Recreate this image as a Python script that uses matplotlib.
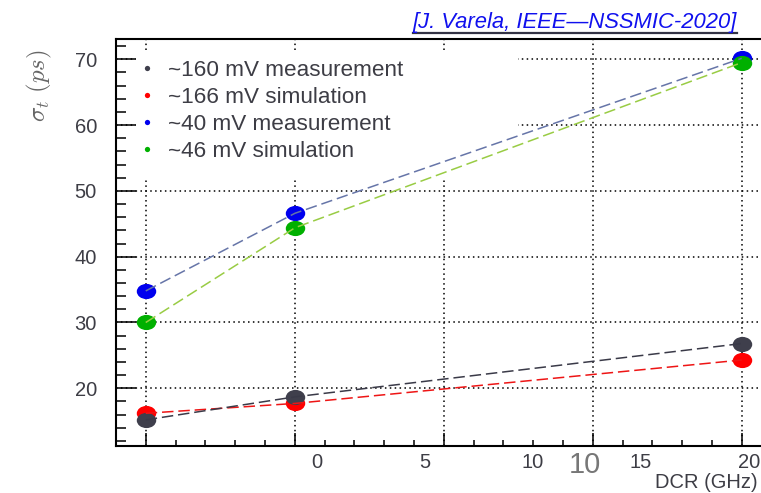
import matplotlib
matplotlib.use("Agg")
import matplotlib.pyplot as plt
import numpy as np
from matplotlib.lines import Line2D
from matplotlib.path import Path
from matplotlib.patches import Rectangle
from matplotlib.ticker import FixedLocator

plt.rcParams["font.family"] = ["Liberation Sans", "DejaVu Sans"]
plt.rcParams["mathtext.fontset"] = "cm"

# DCR points (GHz, on the printed scale) and time resolution (ps)
dcr = [-7.93, -1.02, 19.66]
sigma_160_meas = [15.2, 18.7, 26.8]
sigma_166_sim = [16.2, 17.7, 24.3]
sigma_40_meas = [34.8, 46.6, 70.15]
sigma_46_sim = [30.0, 44.4, 69.5]

labels = ["~160 mV measurement", "~166 mV simulation",
          "~40 mV measurement", "~46 mV simulation"]
dcr_ticks = [0, 5, 10, 15, 20]

TXT = "#3d3d45"

# squashed circle used as marker
circ = Path.unit_circle()
ellipse = Path(circ.vertices * np.array([1.0, 0.78]), circ.codes)

fig = plt.figure(figsize=(7.61, 4.93), dpi=100)
ax = fig.add_axes([115.7 / 761, 47 / 493, 646.3 / 761, 406.7 / 493])
ax.set_xlim(-9.32, 20.6)
ax.set_ylim(11.23, 73.04)
ax.set_axisbelow(True)

# (values, marker colour, line colour), drawn in this order
series = [
    (sigma_166_sim, "#ff0000", "#ee1515"),
    (sigma_160_meas, "#3f3f4c", "#3a3a48"),
    (sigma_40_meas, "#0000ee", "#6675a8"),
    (sigma_46_sim, "#00b000", "#99cc44"),
]
for vals, mcol, lcol in series:
    ax.plot(dcr, vals, ls="none", marker=ellipse, ms=14, mfc=mcol,
            mec=mcol, mew=0, zorder=3)
    ln, = ax.plot(dcr, vals, color=lcol, lw=1.1, zorder=4)
    ln.set_dashes((7.5, 3.2))

# grid / ticks sit on their own spacing, labels are on the DCR scale
step = (19.66 + 7.93) / 4
ax.xaxis.set_major_locator(FixedLocator(-7.93 + step * np.arange(5)))
ax.xaxis.set_minor_locator(FixedLocator(-7.93 + step / 5 * np.arange(-1, 21)))
ax.set_xticklabels([])
ax.yaxis.set_major_locator(FixedLocator([20, 30, 40, 50, 60, 70]))
ax.yaxis.set_minor_locator(FixedLocator(np.arange(12, 74, 2)))

ax.grid(True, which="major", color="black", lw=1.1, ls=(0, (1, 2.2)))
ax.tick_params(axis="x", which="major", direction="in", length=9.4, width=1.1)
ax.tick_params(axis="x", which="minor", direction="in", length=4.3, width=1.1)
ax.tick_params(axis="y", which="major", direction="in", length=14.4, width=1.1,
               labelsize=14.5, labelcolor=TXT, pad=13.5)
ax.tick_params(axis="y", which="minor", direction="in", length=7.2, width=1.1)
ax.tick_params(top=False, right=False)
ax.spines["right"].set_visible(False)
for s in ("left", "bottom", "top"):
    ax.spines[s].set_linewidth(1.5)

sec = ax.secondary_xaxis("bottom")
sec.set_xticks(dcr_ticks)
sec.set_xticklabels([str(t) for t in dcr_ticks])
sec.tick_params(length=0, labelsize=14.5, labelcolor=TXT, pad=5)
sec.spines["bottom"].set_visible(False)

# legend panel
ax.add_patch(Rectangle((136, 493 - 180), 518 - 136, 130, transform=None,
                       facecolor="white", edgecolor="none", zorder=1))
handles = [Line2D([], [], ls="none", marker="o", ms=3.8, color=c[1], mew=0)
           for c in [series[1], series[0], series[2], series[3]]]
leg = ax.legend(handles, labels, loc="upper left", frameon=False,
                bbox_to_anchor=((141 - 115.7) / 646.3, (446 - 59.6) / 406.7),
                borderpad=0, borderaxespad=0, fontsize=16.2,
                handlelength=0.55, handletextpad=0.65, labelspacing=0.27,
                labelcolor=TXT)
leg.set_zorder(2)

fig.text(39 / 761, 1 - 86 / 493, r"$\sigma_t\ (ps)$", rotation=90,
         ha="center", va="center", fontsize=18, color="#666666")
fig.text(758 / 761, 1 - 482 / 493, "DCR (GHz)", ha="right", va="center",
         fontsize=14.5, color=TXT)
fig.text(585 / 761, 1 - 465 / 493, "10", ha="center", va="center",
         fontsize=21, color="#777777",
         family=["Liberation Sans Narrow", "Liberation Sans"])

ref = fig.text(737 / 761, 1 - 28.3 / 493, "[J. Varela, IEEE\u2014NSSMIC-2020]",
               ha="right", va="baseline", fontsize=15.8, style="italic",
               color="#1010ee")
fig.canvas.draw()
bb = ref.get_window_extent()
fig.add_artist(Line2D([bb.x0 / 761, bb.x1 / 761], [1 - 33 / 493] * 2,
                      transform=fig.transFigure, color="#333344", lw=1.6))

fig.savefig("out.png", dpi=100)
